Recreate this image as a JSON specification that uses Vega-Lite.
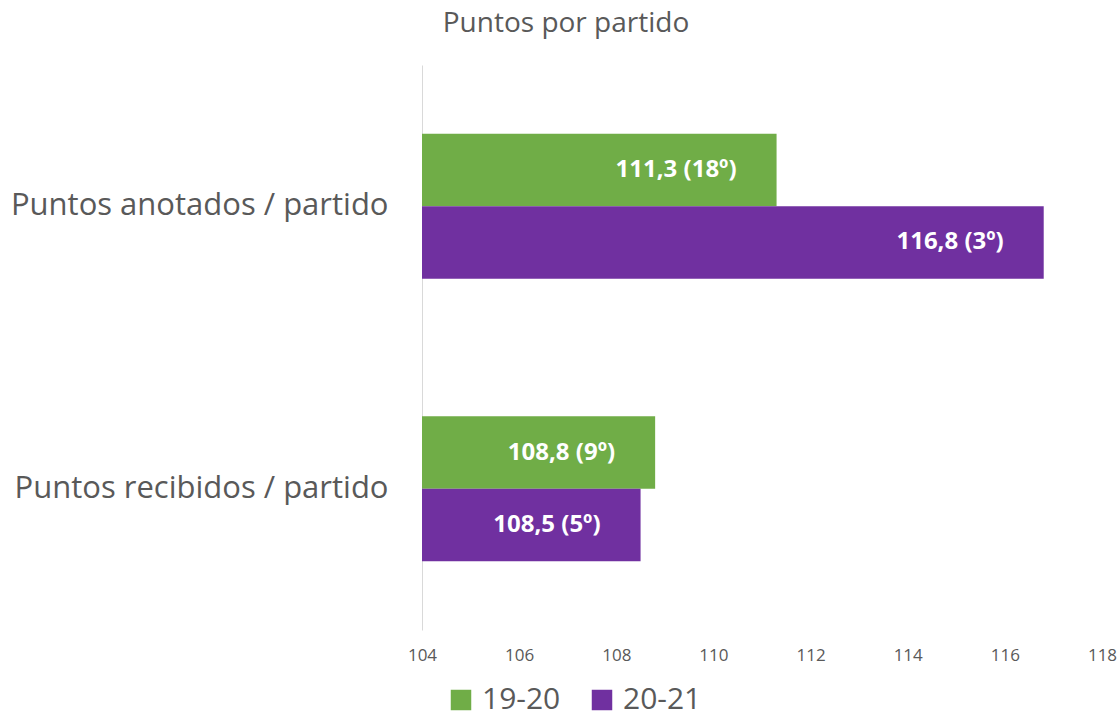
{
  "$schema": "https://vega.github.io/schema/vega-lite/v6.json",
  "width": 680,
  "height": 565,
  "autosize": {"type": "none"},
  "padding": {"left": 422, "top": 65, "right": 17, "bottom": 90},
  "background": "white",
  "title": {
    "text": "Puntos por partido",
    "anchor": "middle",
    "frame": "group",
    "dx": -196,
    "offset": 27,
    "font": "Open Sans",
    "fontSize": 28,
    "fontWeight": "normal",
    "color": "#595959"
  },
  "data": {
    "values": [
      {"categoria": "Puntos anotados / partido", "temporada": "19-20", "valor": 111.3, "etiqueta": "111,3 (18º)"},
      {"categoria": "Puntos anotados / partido", "temporada": "20-21", "valor": 116.8, "etiqueta": "116,8 (3º)"},
      {"categoria": "Puntos recibidos / partido", "temporada": "19-20", "valor": 108.8, "etiqueta": "108,8 (9º)"},
      {"categoria": "Puntos recibidos / partido", "temporada": "20-21", "valor": 108.5, "etiqueta": "108,5 (5º)"}
    ]
  },
  "encoding": {
    "y": {
      "field": "categoria",
      "type": "nominal",
      "sort": null,
      "scale": {"paddingInner": 0, "paddingOuter": 0},
      "axis": {
        "title": null,
        "ticks": false,
        "domain": true,
        "domainColor": "#d9d9d9",
        "labelFont": "Open Sans",
        "labelFontSize": 31,
        "labelColor": "#595959",
        "labelPadding": 34,
        "labelLimit": 500
      }
    },
    "yOffset": {
      "field": "temporada",
      "type": "nominal",
      "scale": {"paddingInner": 0, "paddingOuter": 0.95}
    },
    "x": {
      "field": "valor",
      "type": "quantitative",
      "scale": {"domain": [104, 118], "zero": false, "nice": false},
      "axis": {
        "title": null,
        "values": [104, 106, 108, 110, 112, 114, 116, 118],
        "domain": false,
        "ticks": false,
        "grid": false,
        "labelFont": "Open Sans",
        "labelFontSize": 17,
        "labelColor": "#595959",
        "labelPadding": 17,
        "labelFlush": false
      }
    }
  },
  "layer": [
    {
      "mark": {"type": "bar", "clip": true},
      "encoding": {
        "color": {
          "field": "temporada",
          "type": "nominal",
          "scale": {"domain": ["19-20", "20-21"], "range": ["#70ad47", "#7030a0"]},
          "legend": {
            "title": null,
            "orient": "none",
            "direction": "horizontal",
            "legendX": 24,
            "legendY": 620,
            "symbolType": "square",
            "symbolSize": 420,
            "symbolStrokeWidth": 0,
            "symbolOpacity": 1,
            "labelFont": "Open Sans",
            "labelFontSize": 30,
            "labelColor": "#595959",
            "labelOffset": 6,
            "columnPadding": 26
          }
        }
      }
    },
    {
      "mark": {
        "type": "text",
        "align": "right",
        "baseline": "middle",
        "dx": -40,
        "font": "Open Sans",
        "fontSize": 24,
        "fontWeight": "bold",
        "color": "white"
      },
      "encoding": {
        "text": {"field": "etiqueta"}
      }
    }
  ],
  "config": {
    "view": {"stroke": null}
  }
}
